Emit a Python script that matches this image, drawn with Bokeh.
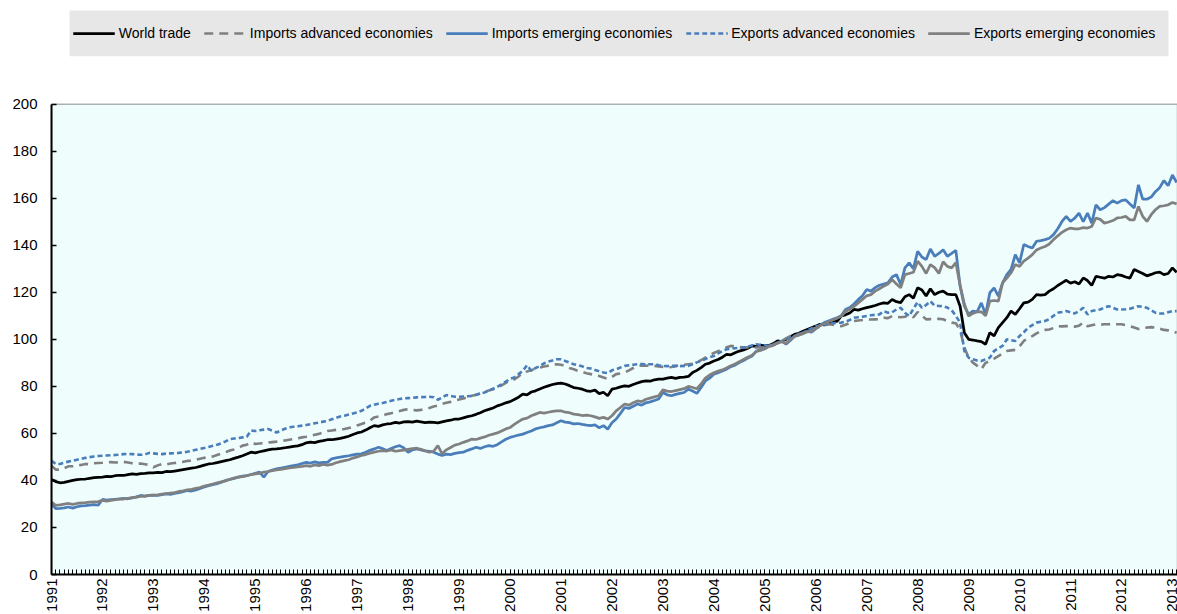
import math
from bokeh.plotting import figure
from bokeh.models import (Legend, LegendItem, FixedTicker, Range1d, ColumnDataSource,
                          BoxAnnotation)
from bokeh.embed import file_html
from bokeh.resources import INLINE

# ---------------- data (monthly index, Jan 1991 - Feb 2013) ----------------
start_year = 1991
year_ticks = list(range(1991, 2014))
y_ticks = list(range(0, 201, 20))

world_trade = [
    40.4, 39.5, 39.0, 39.2, 39.6, 40.0, 40.3, 40.5, 40.6, 40.9, 41.2, 41.3,
    41.4, 41.7, 41.6, 42.0, 42.2, 42.1, 42.5, 42.8, 42.6, 42.9, 43.0, 43.2,
    43.2, 43.4, 43.3, 43.8, 43.7, 44.0, 44.3, 44.6, 44.9, 45.2, 45.5, 46.0,
    46.5, 47.0, 47.2, 47.6, 48.0, 48.4, 48.8, 49.4, 49.9, 50.5, 51.2, 52.0,
    51.7, 52.2, 52.6, 53.0, 53.3, 53.4, 53.6, 53.9, 54.2, 54.5, 54.7, 55.2,
    56.0, 56.3, 56.1, 56.6, 56.9, 57.3, 57.3, 57.6, 57.9, 58.3, 58.8, 59.5,
    60.2, 60.6, 61.4, 62.4, 63.3, 63.0, 63.6, 64.0, 64.2, 64.7, 64.4, 64.9,
    65.0, 64.8, 65.2, 64.9, 64.6, 64.8, 64.7, 64.5, 64.9, 65.3, 65.6, 66.1,
    66.1, 66.6, 67.1, 67.5, 68.1, 68.8, 69.6, 70.2, 70.8, 71.7, 72.3, 73.0,
    73.5, 74.4, 75.4, 76.7, 76.4, 77.6, 78.1, 78.9, 79.6, 80.2, 80.8, 81.2,
    81.4, 81.0, 80.3, 79.5, 79.2, 78.8, 78.1, 77.9, 78.4, 76.9, 77.5, 76.0,
    78.8, 79.2, 79.8, 80.2, 80.0, 80.8, 81.4, 82.0, 82.3, 82.2, 82.8, 83.1,
    83.1, 83.5, 83.8, 83.4, 83.8, 83.9, 84.2, 85.9, 86.8, 88.0, 89.4, 89.9,
    90.8, 91.4, 92.4, 93.6, 93.4, 94.3, 95.0, 95.5, 96.2, 97.2, 97.0, 97.5,
    97.2, 97.4, 98.2, 99.3, 99.0, 100.0, 101.0, 102.1, 102.6, 103.4, 104.2, 104.9,
    105.6, 106.4, 106.1, 106.8, 107.8, 107.6, 109.9, 110.4, 111.2, 112.7, 112.4, 113.0,
    113.5, 113.9, 114.4, 115.0, 115.5, 115.3, 116.9, 116.0, 115.6, 118.1, 119.0, 117.5,
    121.9, 121.0, 118.4, 121.5, 119.0, 120.0, 120.5, 119.2, 119.0, 119.0, 114.1, 102.8,
    100.0, 99.7, 99.3, 99.0, 97.9, 102.8, 101.5, 105.0, 107.1, 109.2, 112.0, 110.6,
    113.0, 115.5, 115.8, 117.0, 119.0, 118.8, 119.0, 120.5, 121.5, 122.9, 124.0, 125.1,
    123.9, 124.5, 123.5, 126.1, 125.0, 122.9, 126.8, 126.4, 126.0, 126.8, 126.5, 127.5,
    127.2, 126.5, 126.0, 129.7, 128.8, 128.0, 127.0, 127.6, 128.3, 128.6, 127.5, 128.0,
    130.4, 128.5,
]

imports_advanced = [
    46.3, 44.6, 44.6, 45.2, 46.0, 46.0, 46.3, 46.6, 47.0, 46.9, 47.3, 47.4,
    47.5, 47.7, 47.8, 47.6, 47.7, 47.9, 47.6, 47.3, 47.0, 47.2, 46.9, 46.6,
    45.6, 46.4, 47.0, 46.8, 47.2, 47.4, 47.6, 47.9, 48.3, 48.4, 48.8, 49.2,
    49.6, 49.9, 50.2, 50.8, 51.4, 52.0, 52.7, 53.2, 53.8, 54.8, 55.2, 56.2,
    55.5, 55.7, 55.9, 56.1, 56.3, 56.5, 56.8, 57.0, 57.3, 57.6, 57.9, 58.3,
    58.6, 59.0, 59.4, 59.8, 60.4, 61.0, 61.2, 61.5, 61.7, 61.9, 62.3, 62.8,
    63.4, 64.0, 64.6, 65.4, 66.8, 67.2, 67.6, 68.2, 68.6, 69.0, 69.5, 70.0,
    70.3, 70.0, 69.8, 70.0, 70.4, 70.8, 71.4, 71.8, 72.5, 73.0, 73.4, 74.0,
    74.4, 74.8, 75.4, 76.0, 76.4, 77.0, 77.6, 78.2, 78.8, 79.5, 80.4, 81.5,
    82.4, 83.0, 84.2, 85.9, 86.3, 86.9, 87.5, 88.0, 88.4, 88.8, 89.2, 89.4,
    89.2, 88.6, 87.8, 87.3, 86.6, 86.2, 85.6, 85.2, 84.8, 84.4, 83.8, 83.2,
    84.0, 85.2, 85.5, 85.9, 86.8, 87.8, 88.7, 88.9, 88.8, 88.7, 88.7, 88.5,
    88.3, 88.0, 88.2, 88.6, 89.0, 89.2, 89.4, 89.6, 90.2, 91.2, 92.2, 93.2,
    94.2, 95.0, 95.8, 96.6, 97.2, 97.0, 96.8, 96.5, 96.6, 96.4, 96.5, 96.6,
    96.5, 96.8, 97.4, 98.5, 99.3, 100.4, 101.4, 101.8, 102.3, 102.8, 103.6, 104.2,
    104.9, 105.3, 105.8, 106.4, 106.2, 105.9, 105.6, 106.2, 106.9, 107.8, 108.0, 108.2,
    108.5, 108.4, 108.5, 108.6, 109.2, 109.0, 109.9, 109.6, 109.4, 109.6, 110.2, 109.4,
    111.6, 110.0, 108.5, 108.6, 108.5, 108.7, 108.5, 107.8, 107.1, 106.8, 104.0, 96.5,
    92.2, 90.1, 88.8, 87.3, 90.0, 90.8, 91.8, 92.9, 94.0, 95.0, 95.3, 95.5,
    97.0, 99.3, 100.4, 101.4, 102.5, 103.5, 104.0, 104.2, 104.8, 105.6, 105.5, 105.6,
    105.6, 105.4, 105.8, 107.1, 105.6, 106.0, 106.4, 106.2, 106.4, 106.4, 106.6, 106.4,
    106.4, 106.0, 105.6, 105.0, 104.4, 104.6, 105.0, 105.2, 105.0, 104.6, 104.0, 103.8,
    103.5, 102.8,
]

imports_emerging = [
    30.1, 28.0, 28.1, 28.3, 28.7, 28.2, 28.8, 29.2, 29.3, 29.5, 29.7, 29.5,
    31.9, 31.6, 31.8, 32.0, 32.2, 32.4, 32.2, 32.6, 33.0, 33.6, 33.3, 33.6,
    33.8, 33.6, 34.0, 34.3, 34.1, 34.5, 34.8, 35.2, 35.7, 35.5, 36.0, 36.6,
    37.2, 37.8, 38.2, 38.6, 39.2, 40.0, 40.4, 40.9, 41.4, 41.8, 42.0, 42.5,
    43.0, 43.5, 41.4, 43.8, 44.4, 44.9, 45.2, 45.6, 46.0, 46.3, 46.6, 47.2,
    47.7, 47.4, 47.9, 47.5, 47.7, 47.7, 49.2, 49.6, 49.9, 50.2, 50.5, 50.9,
    51.2, 51.3, 52.0, 52.8, 53.4, 54.1, 53.5, 52.7, 53.6, 54.3, 54.8, 53.8,
    52.0, 53.0, 53.4, 53.0, 52.6, 52.4, 52.0, 51.2, 50.6, 51.2, 51.0, 51.5,
    51.8, 52.0, 52.8, 53.4, 54.1, 53.6, 54.3, 54.8, 54.5, 55.2, 56.4, 57.5,
    58.3, 58.8, 59.3, 59.7, 60.4, 61.0, 61.9, 62.4, 62.8, 63.3, 63.6, 64.5,
    65.4, 64.8, 64.6, 64.0, 64.2, 63.8, 63.5, 63.3, 63.6, 62.4, 63.3, 61.8,
    64.5, 66.1, 68.5, 71.0, 70.6, 71.5, 72.5, 72.0, 73.0, 73.4, 74.0, 74.6,
    77.4, 76.4, 76.0, 76.6, 77.0, 77.4, 78.8, 78.0, 77.0, 79.5, 82.3, 83.5,
    85.2, 85.8, 86.5, 87.3, 88.4, 89.0, 90.1, 91.0, 92.0, 92.9, 95.0, 95.5,
    96.0, 97.2, 97.8, 98.5, 99.3, 97.9, 99.5, 101.4, 102.0, 102.6, 103.5, 103.0,
    104.5, 106.0, 107.1, 107.8, 108.5, 109.2, 110.0, 112.7, 113.5, 115.0, 116.9, 118.5,
    121.2, 120.5, 122.0, 123.0, 123.5, 124.0, 126.5, 127.5, 123.3, 130.4, 132.5, 130.0,
    137.4, 135.0, 133.9, 138.4, 135.3, 136.5, 138.1, 135.3, 136.5, 137.8, 122.6, 114.1,
    110.6, 112.0, 111.7, 115.5, 110.6, 119.8, 121.9, 118.4, 124.0, 127.5, 129.7, 136.0,
    132.5, 140.3, 139.5, 138.8, 141.7, 142.0, 142.4, 143.0, 144.5, 147.0, 150.1, 152.3,
    150.1, 151.5, 153.7, 150.0, 153.7, 149.4, 157.2, 155.1, 156.0, 157.5, 159.0, 157.9,
    159.0, 159.3, 157.5, 155.8, 165.7, 159.6, 159.6, 160.5, 162.8, 164.5, 167.5, 165.3,
    169.9, 166.7,
]

exports_advanced = [
    48.4, 47.0, 47.0, 47.6, 48.0, 48.4, 48.8, 49.2, 49.6, 49.9, 50.2, 50.4,
    50.5, 50.6, 50.7, 50.8, 51.0, 51.2, 51.3, 51.2, 51.0, 50.9, 51.0, 51.7,
    51.5, 51.3, 51.2, 51.4, 51.5, 51.6, 51.7, 51.9, 52.2, 52.6, 53.0, 53.4,
    53.8, 54.2, 54.7, 55.2, 55.8, 56.6, 57.6, 57.8, 58.0, 58.3, 58.6, 61.2,
    61.0, 61.3, 61.6, 61.9, 61.2, 60.4, 61.2, 62.0, 62.6, 62.8, 63.0, 63.3,
    63.6, 63.9, 64.3, 64.6, 65.0, 65.3, 66.0, 66.6, 67.2, 67.5, 68.0, 68.5,
    68.9, 69.6, 70.6, 71.7, 72.2, 72.6, 72.9, 73.4, 73.9, 74.3, 74.6, 74.9,
    75.0, 75.1, 75.3, 75.4, 75.5, 75.6, 75.4, 74.3, 75.2, 76.3, 75.9, 75.6,
    75.6, 75.7, 75.8, 75.9, 76.4, 77.0, 77.4, 78.2, 79.0, 79.8, 80.9, 82.0,
    83.2, 83.8, 85.2, 86.6, 89.0, 86.6, 87.8, 88.6, 89.8, 90.5, 91.0, 91.5,
    91.5, 90.8, 90.1, 89.4, 89.0, 88.5, 87.8, 87.6, 87.0, 86.4, 85.9, 85.6,
    86.8, 87.3, 88.0, 88.7, 89.0, 89.2, 89.4, 89.5, 89.4, 89.4, 89.4, 89.0,
    88.7, 88.6, 88.7, 88.7, 88.6, 88.7, 88.7, 89.4, 90.2, 90.8, 91.6, 92.4,
    92.9, 94.0, 95.0, 95.8, 96.0, 96.2, 96.4, 96.5, 96.9, 97.4, 97.9, 97.6,
    97.4, 97.2, 97.6, 98.4, 99.2, 100.0, 100.7, 101.3, 102.0, 102.8, 103.7, 104.6,
    105.6, 105.8, 106.2, 107.1, 106.8, 107.0, 107.1, 107.5, 108.2, 109.2, 109.4, 109.6,
    109.9, 110.2, 110.4, 110.6, 112.0, 111.3, 111.5, 112.7, 113.4, 111.3, 109.9, 113.0,
    115.8, 113.4, 114.6, 116.2, 114.3, 114.2, 114.1, 113.5, 112.4, 110.0, 107.1, 95.0,
    92.2, 91.5, 91.0, 90.8, 91.5, 92.2, 95.0, 96.2, 97.2, 100.0, 99.6, 99.3,
    101.4, 103.0, 104.9, 106.0, 107.1, 107.5, 107.8, 108.6, 110.0, 111.3, 111.6, 112.0,
    111.5, 111.0, 112.0, 113.4, 110.6, 112.0, 112.4, 112.7, 113.5, 114.1, 113.4, 112.7,
    112.7, 112.8, 113.0, 113.6, 114.1, 113.8, 113.4, 112.4, 111.3, 111.0, 111.0, 111.5,
    112.0, 112.0,
]

exports_emerging = [
    30.8, 29.4, 29.6, 29.9, 30.2, 29.8, 30.2, 30.5, 30.6, 30.8, 30.9, 31.0,
    31.5, 31.2, 31.5, 31.8, 32.0, 32.1, 32.4, 32.7, 32.9, 33.2, 33.3, 33.6,
    33.7, 33.9, 34.2, 34.4, 34.6, 34.8, 35.3, 35.6, 36.0, 36.2, 36.6, 37.0,
    37.6, 38.0, 38.5, 39.0, 39.4, 39.8, 40.5, 41.0, 41.4, 41.6, 42.0, 42.5,
    42.8, 43.0, 43.5, 43.8, 44.2, 44.5, 44.7, 45.0, 45.3, 45.5, 45.8, 46.0,
    46.3, 46.0, 46.6, 46.3, 46.8, 46.5, 46.8, 47.5, 48.0, 48.4, 48.8, 49.5,
    50.0, 50.6, 51.0, 51.6, 52.0, 52.4, 52.7, 52.5, 53.0, 52.4, 52.7, 52.9,
    53.2, 53.5, 53.7, 53.2, 52.6, 52.0, 52.4, 54.8, 51.3, 53.0, 54.0, 55.0,
    55.5, 56.2, 56.8, 57.6, 57.4, 58.0, 58.5, 59.2, 59.7, 60.2, 61.0, 61.9,
    62.5, 63.8, 65.0, 66.1, 66.5, 67.5, 68.2, 68.9, 68.6, 69.0, 69.4, 69.6,
    69.6, 69.0, 68.8, 68.2, 68.0, 67.6, 67.8, 67.5, 67.0, 66.4, 66.8, 66.1,
    67.5, 69.6, 71.0, 72.5, 72.0, 73.0, 73.8, 73.5, 74.5, 75.0, 75.5, 76.0,
    78.5, 78.0, 77.8, 78.2, 78.6, 79.0, 80.0, 79.5, 79.0, 81.0, 83.5, 84.8,
    85.8, 86.5, 87.0, 87.8, 88.8, 89.5, 90.5, 91.4, 92.4, 93.2, 94.8, 95.3,
    96.0, 97.0, 97.6, 98.4, 99.0, 98.2, 99.8, 101.2, 101.8, 102.4, 103.2, 103.4,
    104.6, 105.8, 106.6, 107.5, 108.2, 109.0, 109.8, 111.8, 112.8, 114.0, 115.5, 117.0,
    118.5, 119.0, 120.5, 121.5, 122.6, 123.5, 125.4, 123.5, 121.9, 127.5, 128.0, 128.5,
    133.2, 131.0, 128.0, 131.8, 130.5, 128.0, 133.0, 131.0, 130.4, 132.6, 123.0, 115.0,
    109.9, 111.0, 111.7, 111.7, 110.0, 116.2, 116.5, 116.2, 124.0, 126.0, 128.3, 131.8,
    131.0, 133.2, 134.5, 136.0, 138.0, 138.8, 139.5, 140.5, 142.4, 144.0, 145.5, 146.6,
    147.3, 147.0, 147.0, 147.5, 147.3, 148.0, 151.6, 151.0, 149.4, 149.9, 150.5, 151.6,
    151.8, 152.3, 150.8, 150.8, 156.5, 152.3, 150.1, 153.0, 155.1, 156.5, 156.8, 157.2,
    158.2, 157.6,
]

series_labels = [
    "World trade",
    "Imports advanced economies",
    "Imports emerging economies",
    "Exports advanced economies",
    "Exports emerging economies",
]

# ---------------- figure ----------------
FONT = "Liberation Sans"
BLUE = "#4a7ebb"
GREY = "#808080"
PLOT_BG = "#effdfd"
LEGEND_BG = "#e7e7e7"

n = len(world_trade)
months = [start_year + i / 12.0 for i in range(n)]
x_end = 2013.1
src = ColumnDataSource(dict(
    x=months, wt=world_trade, ia=imports_advanced, ie=imports_emerging,
    ea=exports_advanced, ee=exports_emerging,
))

# layout (pixels): the frame spans the whole height; the band above 200 holds the legend
FIG_W, FIG_H = 1177, 614
LEFT_PX = 51
AXIS_PANEL = 38
PLOT_TOP_PX = 104
frame_h = FIG_H - AXIS_PANEL
frame_w = FIG_W - LEFT_PX
y_top = y_ticks[-1] * frame_h / (frame_h - PLOT_TOP_PX)


def x_at(px):
    return start_year + (px - LEFT_PX) * (x_end - start_year) / frame_w


def y_at(py):
    return (frame_h - py) * y_top / frame_h


p = figure(
    width=FIG_W, height=FIG_H, output_backend="svg", toolbar_location=None,
    x_range=Range1d(start_year, x_end), y_range=Range1d(0, y_top),
    min_border_left=LEFT_PX, min_border_right=0, min_border_top=0,
    min_border_bottom=AXIS_PANEL,
    background_fill_color="white", border_fill_color="white",
)
p.grid.visible = False
p.outline_line_color = None

plot_area = BoxAnnotation(left=start_year, right=x_end, bottom=y_ticks[0], top=y_ticks[-1],
                          fill_color=PLOT_BG, fill_alpha=1.0,
                          line_color="black", line_width=1.5, level="underlay")
p.add_layout(plot_area)

legend_band = BoxAnnotation(left=x_at(69), right=x_at(1168), top=y_at(10), bottom=y_at(56),
                            fill_color=LEGEND_BG, fill_alpha=1.0, line_color=None,
                            level="underlay")
p.add_layout(legend_band)

r_wt = p.line("x", "wt", source=src, line_color="black", line_width=2.75)
r_ia = p.line("x", "ia", source=src, line_color=GREY, line_width=2.6, line_dash="9 6")
r_ie = p.line("x", "ie", source=src, line_color=BLUE, line_width=2.75)
r_ea = p.line("x", "ea", source=src, line_color=BLUE, line_width=2.6, line_dash="5 3")
r_ee = p.line("x", "ee", source=src, line_color=GREY, line_width=2.75)

# y axis
ya = p.yaxis[0]
ya.ticker = FixedTicker(ticks=y_ticks)
ya.bounds = (y_ticks[0], y_ticks[-1])
ya.axis_line_width = 2
ya.axis_line_color = "black"
ya.major_tick_in = 5
ya.major_tick_out = 0
ya.major_tick_line_width = 1.5
ya.minor_tick_line_color = None
ya.major_label_standoff = 14
ya.major_label_text_font = FONT
ya.major_label_text_font_size = "15px"
ya.major_label_text_color = "black"

# x axis
xa = p.xaxis[0]
xa.ticker = FixedTicker(ticks=year_ticks,
                        minor_ticks=[start_year + i / 12.0 for i in range(12 * 22 + 2)])
xa.axis_line_width = 2
xa.axis_line_color = "black"
xa.major_tick_in = 5
xa.major_tick_out = 0
xa.minor_tick_in = 5
xa.minor_tick_out = 0
xa.major_tick_line_width = 1
xa.minor_tick_line_width = 1
xa.major_label_orientation = math.pi / 2
xa.major_label_standoff = 4
xa.major_label_text_font = FONT
xa.major_label_text_font_size = "15px"
xa.major_label_text_color = "black"

legend = Legend(
    items=[LegendItem(label=lab, renderers=[r]) for lab, r in
           zip(series_labels, [r_wt, r_ia, r_ie, r_ea, r_ee])],
    orientation="horizontal", location="top_center",
    background_fill_color=LEGEND_BG, background_fill_alpha=0.0,
    border_line_color=None,
    label_text_font=FONT, label_text_font_size="14px", label_text_color="black",
    glyph_width=42, glyph_height=26, label_height=26,
    label_standoff=4, spacing=13, padding=10, margin=20,
)
p.add_layout(legend)

open("out.html", "w").write(file_html(p, INLINE))
